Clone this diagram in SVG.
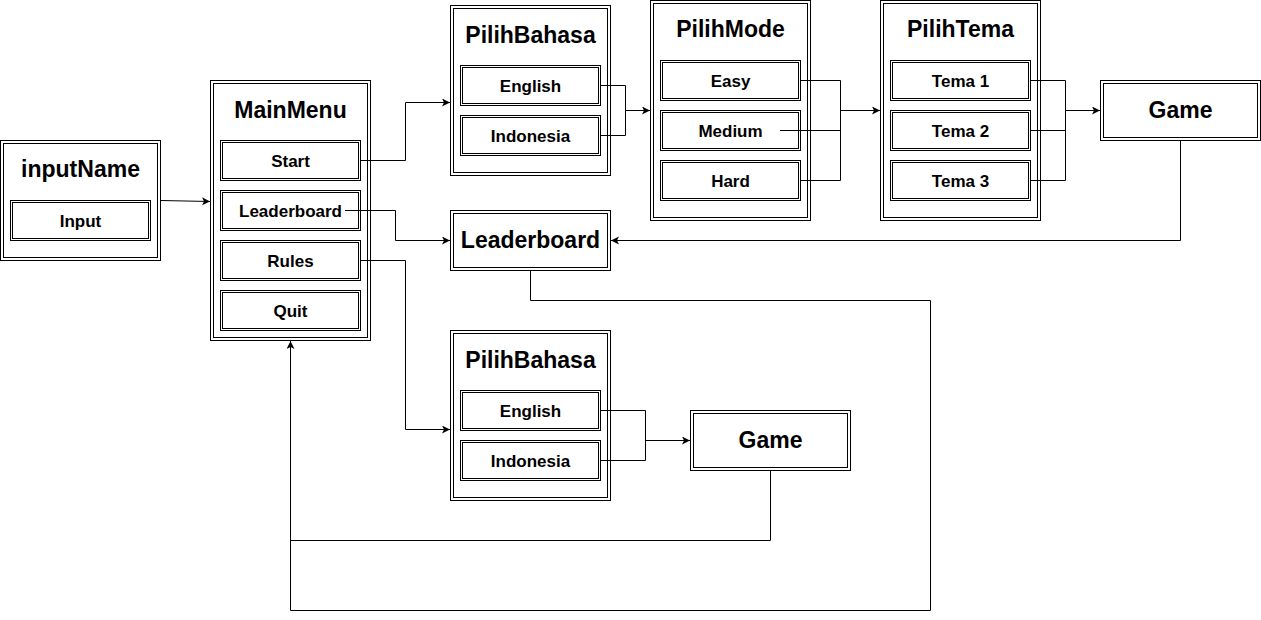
<svg xmlns="http://www.w3.org/2000/svg" width="1261" height="620" viewBox="0 0 1261 620">
<style>
.o{fill:#fff;stroke:#000;stroke-width:1}
.i{fill:none;stroke:#000;stroke-width:1}
.t{font-family:"Liberation Sans",Arial,sans-serif;font-weight:bold;font-size:23px;text-anchor:middle;fill:#000}
.c{font-family:"Liberation Sans",Arial,sans-serif;font-weight:bold;font-size:17px;text-anchor:middle;fill:#000}
.e{fill:none;stroke:#000;stroke-width:1}
</style>
<defs>
<marker id="a" markerUnits="userSpaceOnUse" markerWidth="10" markerHeight="10" refX="8" refY="4" orient="auto">
<path d="M0,0 L8,4 L0,8 L2,4 z" fill="#000"/>
</marker>
</defs>
<rect width="1261" height="620" fill="#fff"/>
<g id="inputName">
<rect class="o" x="0.5" y="140.5" width="160" height="120"/><rect class="i" x="3.5" y="143.5" width="154" height="114"/>
<text class="t" x="80.5" y="177">inputName</text>
<rect class="o" x="10.5" y="200.5" width="140" height="40"/><rect class="i" x="12.5" y="202.5" width="136" height="36"/>
<text class="c" x="80.5" y="227">Input</text>
</g>
<g id="MainMenu">
<rect class="o" x="210.5" y="80.5" width="160" height="260"/><rect class="i" x="213.5" y="83.5" width="154" height="254"/>
<text class="t" x="290.5" y="118">MainMenu</text>
<rect class="o" x="220.5" y="140.5" width="140" height="40"/><rect class="i" x="222.5" y="142.5" width="136" height="36"/>
<text class="c" x="290.5" y="167">Start</text>
<rect class="o" x="220.5" y="190.5" width="140" height="40"/><rect class="i" x="222.5" y="192.5" width="136" height="36"/>
<text class="c" x="290.5" y="217">Leaderboard</text>
<rect class="o" x="220.5" y="240.5" width="140" height="40"/><rect class="i" x="222.5" y="242.5" width="136" height="36"/>
<text class="c" x="290.5" y="267">Rules</text>
<rect class="o" x="220.5" y="290.5" width="140" height="40"/><rect class="i" x="222.5" y="292.5" width="136" height="36"/>
<text class="c" x="290.5" y="317">Quit</text>
</g>
<g id="PilihBahasa1">
<rect class="o" x="450.5" y="5.5" width="160" height="170"/><rect class="i" x="453.5" y="8.5" width="154" height="164"/>
<text class="t" x="530.5" y="43">PilihBahasa</text>
<rect class="o" x="460.5" y="65.5" width="140" height="40"/><rect class="i" x="462.5" y="67.5" width="136" height="36"/>
<text class="c" x="530.5" y="92">English</text>
<rect class="o" x="460.5" y="115.5" width="140" height="40"/><rect class="i" x="462.5" y="117.5" width="136" height="36"/>
<text class="c" x="530.5" y="142">Indonesia</text>
</g>
<g id="PilihMode">
<rect class="o" x="650.5" y="0.5" width="160" height="220"/><rect class="i" x="653.5" y="3.5" width="154" height="214"/>
<text class="t" x="730.5" y="37">PilihMode</text>
<rect class="o" x="660.5" y="60.5" width="140" height="40"/><rect class="i" x="662.5" y="62.5" width="136" height="36"/>
<text class="c" x="730.5" y="87">Easy</text>
<rect class="o" x="660.5" y="110.5" width="140" height="40"/><rect class="i" x="662.5" y="112.5" width="136" height="36"/>
<text class="c" x="730.5" y="137">Medium</text>
<rect class="o" x="660.5" y="160.5" width="140" height="40"/><rect class="i" x="662.5" y="162.5" width="136" height="36"/>
<text class="c" x="730.5" y="187">Hard</text>
</g>
<g id="PilihTema">
<rect class="o" x="880.5" y="0.5" width="160" height="220"/><rect class="i" x="883.5" y="3.5" width="154" height="214"/>
<text class="t" x="960.5" y="37">PilihTema</text>
<rect class="o" x="890.5" y="60.5" width="140" height="40"/><rect class="i" x="892.5" y="62.5" width="136" height="36"/>
<text class="c" x="960.5" y="87">Tema 1</text>
<rect class="o" x="890.5" y="110.5" width="140" height="40"/><rect class="i" x="892.5" y="112.5" width="136" height="36"/>
<text class="c" x="960.5" y="137">Tema 2</text>
<rect class="o" x="890.5" y="160.5" width="140" height="40"/><rect class="i" x="892.5" y="162.5" width="136" height="36"/>
<text class="c" x="960.5" y="187">Tema 3</text>
</g>
<g id="Game1">
<rect class="o" x="1100.5" y="80.5" width="160" height="60"/><rect class="i" x="1103.5" y="83.5" width="154" height="54"/>
<text class="t" x="1180.5" y="118">Game</text>
</g>
<g id="Leaderboard">
<rect class="o" x="450.5" y="210.5" width="160" height="60"/><rect class="i" x="453.5" y="213.5" width="154" height="54"/>
<text class="t" x="530.5" y="248">Leaderboard</text>
</g>
<g id="PilihBahasa2">
<rect class="o" x="450.5" y="330.5" width="160" height="170"/><rect class="i" x="453.5" y="333.5" width="154" height="164"/>
<text class="t" x="530.5" y="368">PilihBahasa</text>
<rect class="o" x="460.5" y="390.5" width="140" height="40"/><rect class="i" x="462.5" y="392.5" width="136" height="36"/>
<text class="c" x="530.5" y="417">English</text>
<rect class="o" x="460.5" y="440.5" width="140" height="40"/><rect class="i" x="462.5" y="442.5" width="136" height="36"/>
<text class="c" x="530.5" y="467">Indonesia</text>
</g>
<g id="Game2">
<rect class="o" x="690.5" y="410.5" width="160" height="60"/><rect class="i" x="693.5" y="413.5" width="154" height="54"/>
<text class="t" x="770.5" y="448">Game</text>
</g>
<g id="connectors">
<path class="e" d="M160.5 200.5 L210 201.5" marker-end="url(#a)"/>
<path class="e" d="M360 160.5 H405.5 V102.5 H450" marker-end="url(#a)"/>
<path class="e" d="M345 210.5 H395.5 V240.5 H450" marker-end="url(#a)"/>
<path class="e" d="M360 260.5 H405.5 V429.5 H450" marker-end="url(#a)"/>
<path class="e" d="M600 85.5 H625.5 V135.5 H600"/>
<path class="e" d="M625.5 110.5 H650" marker-end="url(#a)"/>
<path class="e" d="M800 80.5 H840.5 V180.5 H800"/>
<path class="e" d="M780 130.5 H840.5"/>
<path class="e" d="M840.5 110.5 H880" stroke-width="1.6" marker-end="url(#a)"/>
<path class="e" d="M1030 80.5 H1065.5 V180.5 H1030"/>
<path class="e" d="M1030 130.5 H1065.5"/>
<path class="e" d="M1065.5 110.5 H1100" marker-end="url(#a)"/>
<path class="e" d="M1180.5 141 V240.5 H611" marker-end="url(#a)"/>
<path class="e" d="M530.5 271 V300.5 H930.5 V610.5 H290.5 V341" marker-end="url(#a)"/>
<path class="e" d="M600 410.5 H645.5 V460.5 H600"/>
<path class="e" d="M645.5 440.5 H690" marker-end="url(#a)"/>
<path class="e" d="M770.5 471 V540.5 H290.5"/>
</g>
</svg>
